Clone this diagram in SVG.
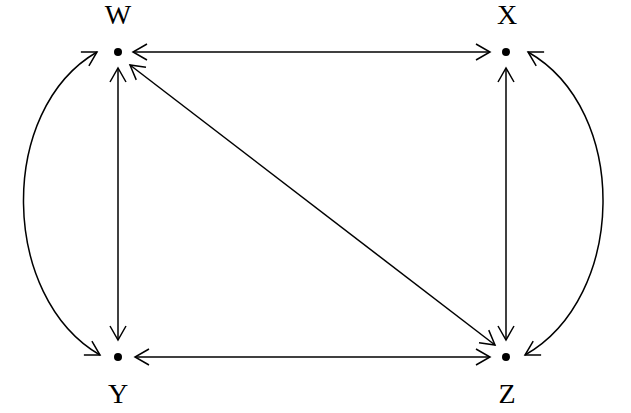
<svg xmlns="http://www.w3.org/2000/svg" width="631" height="413" viewBox="0 0 631 413">
<style>
.lbl{font-family:"Liberation Serif","Times New Roman",serif;font-size:28px;fill:#000;text-anchor:middle}
.e{fill:none;stroke:#000;stroke-width:1.5;marker-start:url(#ah);marker-end:url(#ah)}
.dot{fill:#000}
</style>
<defs>
<marker id="ah" viewBox="-16 -9 18 18" refX="0" refY="0" markerWidth="18" markerHeight="18" markerUnits="userSpaceOnUse" orient="auto-start-reverse">
<path d="M-14,-8 L0,0 L-14,8" fill="none" stroke="#000" stroke-width="1.5"/>
</marker>
</defs>
<rect width="631" height="413" fill="#fff"/>
<g id="connectors">
<line class="e" x1="133" y1="52" x2="490" y2="52"/>
<line class="e" x1="135" y1="357" x2="490" y2="357"/>
<line class="e" x1="118" y1="68" x2="118" y2="340"/>
<line class="e" x1="506" y1="68" x2="506" y2="340"/>
<line class="e" x1="130" y1="65" x2="495" y2="345"/>
<path class="e" d="M97,52 C-3,110 0,297 100,355"/>
<path class="e" d="M528,52 C630,110 627,297 525,355"/>
</g>
<g id="W"><circle class="dot" cx="118" cy="52" r="4"/><text class="lbl" x="118" y="24">W</text></g>
<g id="X"><circle class="dot" cx="506" cy="52" r="4"/><text class="lbl" x="507" y="24">X</text></g>
<g id="Y"><circle class="dot" cx="118" cy="357" r="4"/><text class="lbl" x="118" y="403">Y</text></g>
<g id="Z"><circle class="dot" cx="506" cy="357" r="4"/><text class="lbl" x="507" y="403">Z</text></g>
</svg>
